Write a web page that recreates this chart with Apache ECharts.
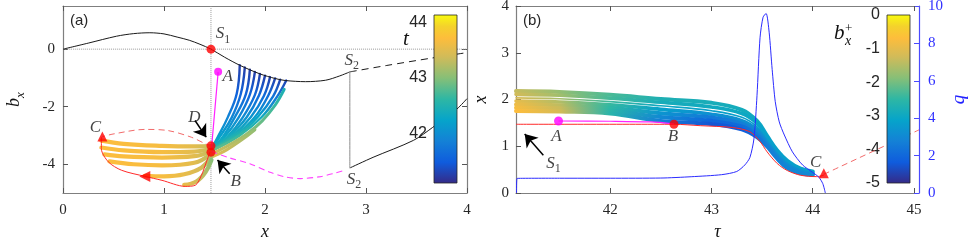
<!DOCTYPE html>
<html><head><meta charset="utf-8">
<script src="https://cdn.jsdelivr.net/npm/echarts@6/dist/echarts.min.js"></script>
<style>html,body{margin:0;padding:0;background:#fff}#c{width:969px;height:242px}</style>
</head><body><div id="c"></div>
<script>
// ================= DATA : panel (a)  (x , b_x , t) =================
const xTicksA = [0, 1, 2, 3, 4];
const bTicksA = [-4, -2, 0];
const tTicksCb = [42, 43, 44];
const tRangeCb = [41.1, 44.13];

const blackUpper = [[0,0],[0.25,0.21],[0.53,0.45],[0.7,0.54],[0.86,0.57],[1.0,0.53],[1.13,0.42],[1.25,0.31],[1.356,0.17],[1.465,0],[1.6,-0.28],[1.75,-0.56],[1.95,-0.86],[2.1,-1.02],[2.2,-1.09],[2.4,-1.13],[2.6,-1.08],[2.74,-0.93],[2.84,-0.79]];
const blackDashed = [[2.84,-0.79],[3.2,-0.57],[3.65,-0.31],[4.0,-0.12]];
const blackLower = [[2.84,-4.13],[3.07,-3.76],[3.47,-3.17],[3.66,-2.72],[3.9,-2.08],[4.0,-1.72]];
const s2Jump = [[2.84,-0.79],[2.84,-4.13]];
const zeroLine = [[0,0],[4,0]];
const s1Vertical = [[1.465,-5],[1.465,1.5]];

const fan1 = [[1.75,-0.56,41.25],[1.72,-1.55,41.55],[1.63,-2.38,41.9],[1.53,-3.07,42.2],[1.47,-3.45,42.45]];
const fan2 = [[1.80,-0.64,41.25],[1.76,-1.56,41.56],[1.67,-2.38,41.92],[1.55,-3.06,42.23],[1.47,-3.46,42.48]];
const fan3 = [[1.85,-0.71,41.25],[1.81,-1.57,41.57],[1.70,-2.37,41.94],[1.58,-3.06,42.27],[1.47,-3.47,42.5]];
const fan4 = [[1.90,-0.79,41.26],[1.85,-1.58,41.58],[1.74,-2.37,41.97],[1.60,-3.05,42.3],[1.47,-3.47,42.53]];
const fan5 = [[1.95,-0.86,41.26],[1.90,-1.59,41.6],[1.78,-2.37,42.0],[1.63,-3.04,42.35],[1.47,-3.48,42.58]];
const fan6 = [[2.00,-0.92,41.27],[1.94,-1.61,41.62],[1.82,-2.36,42.05],[1.65,-3.03,42.4],[1.48,-3.49,42.63]];
const fan7 = [[2.05,-0.97,41.27],[1.99,-1.62,41.65],[1.86,-2.36,42.1],[1.68,-3.02,42.45],[1.48,-3.50,42.68]];
const fan8 = [[2.10,-1.02,41.28],[2.03,-1.63,41.68],[1.90,-2.36,42.17],[1.70,-3.02,42.5],[1.48,-3.51,42.73]];
const fan9 = [[2.15,-1.06,41.29],[2.08,-1.64,41.72],[1.93,-2.35,42.25],[1.73,-3.01,42.57],[1.48,-3.51,42.8]];
const fan10 = [[2.21,-1.09,41.3],[2.12,-1.65,41.78],[1.97,-2.35,42.35],[1.75,-3.00,42.65],[1.48,-3.52,42.88]];
const ret1 = [[1.49,-3.62,43.4],[1.65,-3.32,43.25],[1.82,-2.95,43.05],[1.97,-2.5,42.85],[2.1,-1.95,42.65],[2.19,-1.4,42.45]];
const ret2 = [[1.47,-3.75,43.5],[1.62,-3.5,43.35],[1.77,-3.15,43.2],[1.9,-2.8,43.05]];

const band1 = [[0.38,-3.18,43.7],[0.6,-3.29,43.68],[0.98,-3.36,43.65],[1.3,-3.38,43.5],[1.46,-3.37,43.3]];
const band2 = [[0.38,-3.42,43.7],[0.6,-3.52,43.68],[0.98,-3.58,43.65],[1.3,-3.56,43.5],[1.46,-3.47,43.3]];
const band3 = [[0.41,-3.66,43.7],[0.6,-3.73,43.68],[0.98,-3.77,43.65],[1.3,-3.72,43.5],[1.46,-3.56,43.3]];
const band4 = [[0.46,-3.9,43.7],[0.7,-4.0,43.68],[0.98,-4.04,43.65],[1.3,-3.95,43.5],[1.47,-3.63,43.25]];
const band5 = [[0.81,-4.4,43.68],[1.0,-4.42,43.65],[1.2,-4.35,43.55],[1.37,-4.12,43.4],[1.47,-3.72,43.2]];
const band6 = [[1.2,-4.72,43.55],[1.32,-4.6,43.4],[1.41,-4.28,43.2],[1.47,-3.85,43.0]];

const redArcA = [[1.47,-3.38],[1.41,-3.29],[1.27,-3.06],[1.04,-2.83],[0.81,-2.79],[0.51,-2.94],[0.39,-3.04]];
const redLoopA = [[0.38,-3.06],[0.38,-3.46],[0.45,-3.92],[0.58,-4.21],[0.81,-4.42],[0.98,-4.56],[1.21,-4.77],[1.31,-4.73],[1.37,-4.39],[1.42,-3.92],[1.455,-3.58]];
const magSolidA = [[1.536,-0.8],[1.47,-3.45]];
const magDashA = [[1.47,-3.56],[1.65,-3.78],[1.85,-3.98],[2.05,-4.28],[2.2,-4.44],[2.35,-4.5],[2.55,-4.43],[2.7,-4.3],[2.8,-4.2]];
const redDotsA = [[1.465,0],[1.465,-3.36],[1.465,-3.58]];
const magDotA = [[1.536,-0.785]];
const triCA = [[0.39,-3.04]];
const triArrowA = [[0.81,-4.43]];
const arrowsA = [[[1.307,-2.48],[1.418,-3.06]],[[1.65,-4.33],[1.53,-3.85]]];
const labelsA = [['S1',1.585,0.53],['A',1.63,-0.96],['D',1.30,-2.37],['B',1.71,-4.59],['C',0.32,-2.74],['S2',2.86,-0.38],['S2',2.88,-4.52]];

// ================= DATA : panel (b)  (tau , x , b_x^+) =================
const tauTicksB = [42, 43, 44, 45];
const xTicksB = [0, 1, 2, 3, 4];
const qTicksB = [0, 2, 4, 6, 8, 10];
const bTicksCb = [0, -1, -2, -3, -4, -5];
const bRangeCb = [-5, 0];

const tauBand = [41.07, 41.5, 42.0, 42.5, 43.0, 43.3, 43.45, 43.55, 43.65, 43.75, 43.88, 44.0];
const bandU1x = [2.18, 2.16, 2.10, 2.01, 1.93, 1.78, 1.54, 1.22, 0.91, 0.69, 0.52, 0.46];
const bandU2x = [2.11, 2.09, 2.03, 1.94, 1.84, 1.70, 1.49, 1.19, 0.89, 0.67, 0.51, 0.45];
const bandMx  = [2.035, 2.015, 1.955, 1.865, 1.76, 1.62, 1.415, 1.125, 0.84, 0.635, 0.49, 0.435];
const bandL1x = [1.965, 1.946, 1.889, 1.789, 1.685, 1.549, 1.354, 1.085, 0.808, 0.608, 0.471, 0.424];
const bandL2x = [1.895, 1.879, 1.826, 1.706, 1.615, 1.486, 1.301, 1.055, 0.783, 0.583, 0.454, 0.411];
const bandL3x = [1.825, 1.811, 1.764, 1.624, 1.545, 1.424, 1.249, 1.025, 0.758, 0.558, 0.436, 0.399];
const bandL4x = [1.755, 1.744, 1.701, 1.541, 1.475, 1.361, 1.196, 0.995, 0.733, 0.533, 0.419, 0.386];
const bandU1b = [-1.35,-1.75,-2.3,-2.75,-2.85,-2.9,-3.0,-3.1,-3.15,-3.15,-3.1,-3.05];
const bandU2b = [-1.25,-1.65,-2.35,-2.85,-2.95,-3.0,-3.1,-3.2,-3.25,-3.25,-3.2,-3.15];
const bandMb  = [-1.15,-1.6,-2.4,-3.0,-3.2,-3.2,-3.25,-3.3,-3.35,-3.35,-3.3,-3.25];
const bandL1b = [-1.0,-1.5,-2.45,-3.2,-3.5,-3.5,-3.45,-3.45,-3.45,-3.45,-3.4,-3.35];
const bandL2b = [-0.9,-1.4,-2.5,-3.4,-3.9,-3.8,-3.65,-3.55,-3.55,-3.55,-3.5,-3.45];
const bandL3b = [-0.8,-1.3,-2.55,-3.6,-4.2,-4.1,-3.85,-3.7,-3.65,-3.65,-3.6,-3.55];
const bandL4b = [-0.7,-1.2,-2.6,-3.8,-4.45,-4.35,-4.05,-3.8,-3.75,-3.7,-3.65,-3.6];

const redB = [[41.07,1.47],[42.63,1.47],[42.89,1.44],[43.21,1.40],[43.38,1.31],[43.48,1.10],[43.55,0.88],[43.65,0.63],[43.75,0.48],[43.88,0.38],[44.04,0.35],[44.11,0.38]];
const redDashB = [[44.11,0.4],[45.05,1.35]];
const magB = [[41.49,1.54],[42.0,1.535],[42.4,1.52],[42.63,1.48]];
const qTau = [41.075,41.08,41.5,42.0,42.5,42.8,43.1,43.25,43.33,43.38,43.42,43.45,43.48,43.51,43.54,43.57,43.60,43.63,43.67,43.72,43.8,43.9,44.0,44.06,44.1,44.125];
const qVal = [0,0.78,0.79,0.79,0.8,0.87,0.98,1.15,1.5,1.9,2.9,5.2,8.3,9.4,9.6,8.6,6.6,4.9,3.8,3.1,2.2,1.5,1.1,0.85,0.5,0];
const magDotB = [[41.49,1.54]];
const redDotB = [[42.63,1.47]];
const triCB = [[44.11,0.42]];
const arrowsB = [[[41.34,0.81],[41.156,1.26]]];
const labelsB = [['A',41.47,1.2],['B',42.62,1.2],['S1',41.44,0.64],['C',44.03,0.66]];

// ================= styling helpers =================
const PARULA = [[0,'#352a87'],[0.125,'#0f5cdd'],[0.25,'#1481d6'],[0.375,'#06a4ca'],[0.5,'#2eb7a4'],[0.625,'#87bf77'],[0.75,'#d1bb59'],[0.86,'#fdbd3c'],[0.93,'#f4d22c'],[1,'#f9fb0e']];
function hex(h){return [parseInt(h.slice(1,3),16),parseInt(h.slice(3,5),16),parseInt(h.slice(5,7),16)];}
function cmap(v){
  v=Math.max(0,Math.min(1,v));
  for(let i=1;i<PARULA.length;i++){
    if(v<=PARULA[i][0]){
      const a=PARULA[i-1],b=PARULA[i],f=(v-a[0])/(b[0]-a[0]);
      const ca=hex(a[1]),cb=hex(b[1]);
      return 'rgb('+ca.map((c,k)=>Math.round(c+(cb[k]-c)*f)).join(',')+')';
    }
  }
  return PARULA[PARULA.length-1][1];
}
const SERIF='Liberation Serif', SANS='Liberation Sans', INK='#262626';
const RICH={
  i:{fontFamily:SERIF,fontStyle:'italic',fontSize:17,color:'#111'},
  s:{fontFamily:SERIF,fontSize:12,color:'#111',padding:[12,0,0,0]}
};
function richText(t){return t.length>1?'{i|'+t[0]+'}{s|'+t.slice(1)+'}':'{i|'+t+'}';}

const series=[], trajMeta=[];
function addTraj(id,pts,xi,yi,width,cmin,cmax,horiz){
  series.push({id,type:'line',xAxisIndex:xi,yAxisIndex:yi,data:pts.map(p=>[p[0],p[1]]),symbol:'none',smooth:0.4,silent:true,z:2,
    lineStyle:{width,color:'#888',cap:'round',join:'round'}});
  trajMeta.push({id,pts,cmin,cmax,horiz});
}
function addLine(data,xi,yi,color,width,type,z){
  series.push({type:'line',xAxisIndex:xi,yAxisIndex:yi,data,symbol:'none',smooth:0.3,silent:true,z:z||3,
    lineStyle:{color,width,type:type||'solid'}});
}
function addDots(data,xi,yi,symbol,size,color,rot){
  series.push({type:'scatter',xAxisIndex:xi,yAxisIndex:yi,data,symbol,symbolSize:size,symbolRotate:rot||0,silent:true,z:5,itemStyle:{color}});
}
function addLabels(list,xi,yi){
  series.push({type:'scatter',xAxisIndex:xi,yAxisIndex:yi,symbolSize:0,silent:true,z:6,
    data:list.map(l=>({value:[l[1],l[2]],label:{formatter:richText(l[0])}})),
    label:{show:true,position:'inside',rich:RICH}});
}
function addArrows(list,xi,yi){
  series.push({type:'line',xAxisIndex:xi,yAxisIndex:yi,data:[],silent:true,z:7,
    markLine:{silent:true,animation:false,z:9,symbol:['none','arrow'],symbolSize:12,label:{show:false},
      itemStyle:{color:'#000'},
      lineStyle:{color:'#000',width:1.5,type:'solid'},emphasis:{disabled:true},
      data:list.map(a=>[{coord:a[0]},{coord:a[1]}])}});
}

// ---------- panel (a) series ----------
addLine(zeroLine,0,0,'#9a9a9a',1,'dotted',1);
addLine(s1Vertical,0,0,'#9a9a9a',1,'dotted',1);
[fan1,fan2,fan3,fan4,fan5,fan6,fan7,fan8,fan9,fan10].forEach((f,i)=>addTraj('fan'+i,f,0,0,2.4,tRangeCb[0],tRangeCb[1],false));
[ret1,ret2].forEach((f,i)=>addTraj('ret'+i,f,0,0,3,tRangeCb[0],tRangeCb[1],false));
[band1,band2,band3,band4,band5,band6].forEach((f,i)=>addTraj('band'+i,f,0,0,4.2,tRangeCb[0],tRangeCb[1],false));
addLine(blackUpper,0,0,'#1a1a1a',1);
addLine(blackDashed,0,0,'#1a1a1a',1,[7,5]);
addLine(blackLower,0,0,'#1a1a1a',1);
addLine(s2Jump,0,0,'#8c8c8c',1);
addLine(redArcA,0,0,'#f26b6b',1,[6,4]);
addLine(redLoopA,0,0,'#ff2a2a',1);
addLine(magSolidA,0,0,'#ff22ff',1.2);
addLine(magDashA,0,0,'#ff44ff',1.1,[6,4]);
addDots(redDotsA,0,0,'circle',9,'#ff0000');
addDots(magDotA,0,0,'circle',8,'#ff00ff');
addDots(triCA,0,0,'triangle',10,'#ff0000');
addDots(triArrowA,0,0,'triangle',11,'#ff0000',90);
addArrows(arrowsA,0,0);
addLabels(labelsA,0,0);

// ---------- panel (b) series ----------
const bandSets=[[bandU1x,bandU1b,4],[bandU2x,bandU2b,3.6],[bandMx,bandMb,1.6],[bandL1x,bandL1b,3.6],[bandL2x,bandL2b,4],[bandL3x,bandL3b,4],[bandL4x,bandL4b,4]];
bandSets.forEach((s,i)=>addTraj('bb'+i,tauBand.map((t,k)=>[t,s[0][k],s[1][k]]),2,2,s[2],bRangeCb[0],bRangeCb[1],true));
addLine(redB,2,2,'#ff2a2a',1,'solid',3);
addLine(redDashB,2,2,'#f26b6b',1,[6,4],3);
addLine(magB,2,2,'#ff22ff',1.2,'solid',3);
series.push({type:'line',xAxisIndex:2,yAxisIndex:3,data:qTau.map((t,i)=>[t,qVal[i]]),symbol:'none',smooth:0.25,silent:true,z:4,lineStyle:{color:'#2b2bff',width:1}});
addDots(magDotB,2,2,'circle',9,'#ff00ff');
addDots(redDotB,2,2,'circle',9,'#ff0000');
addDots(triCB,2,2,'triangle',10,'#ff0000');
addArrows(arrowsB,2,2);
addLabels(labelsB,2,2);

// ================= axes =================
const AX_LINE={show:true,onZero:false,lineStyle:{color:'#7f7f7f',width:1.2}};
const TICK=(vals)=>({show:true,inside:true,length:5,customValues:vals,lineStyle:{color:'#555',width:1}});
const LBL=(vals,margin,extra)=>Object.assign({show:true,customValues:vals,margin,color:INK,fontFamily:SERIF,fontSize:15},extra||{});
const NAME_STYLE={fontFamily:SERIF,fontStyle:'italic',fontSize:18,color:'#111'};

const xAxis=[
  {gridIndex:0,type:'value',min:0,max:4,position:'bottom',axisLine:AX_LINE,axisTick:TICK(xTicksA),axisLabel:LBL(xTicksA,10),splitLine:{show:false},
   name:'x',nameLocation:'middle',nameGap:30,nameTextStyle:NAME_STYLE},
  {gridIndex:0,type:'value',min:0,max:4,position:'top',axisLine:AX_LINE,axisTick:TICK(xTicksA),axisLabel:{show:false},splitLine:{show:false}},
  {gridIndex:1,type:'value',min:41.07,max:45.05,position:'bottom',axisLine:AX_LINE,axisTick:TICK(tauTicksB),axisLabel:LBL(tauTicksB,10),splitLine:{show:false},
   name:'τ',nameLocation:'middle',nameGap:30,nameTextStyle:NAME_STYLE},
  {gridIndex:1,type:'value',min:41.07,max:45.05,position:'top',axisLine:AX_LINE,axisTick:TICK(tauTicksB),axisLabel:{show:false},splitLine:{show:false}},
  {gridIndex:2,type:'value',min:0,max:1,show:false},
  {gridIndex:3,type:'value',min:0,max:1,show:false}
];
const yAxis=[
  {gridIndex:0,type:'value',min:-5,max:1.5,position:'left',axisLine:AX_LINE,axisTick:TICK(bTicksA),axisLabel:LBL(bTicksA,8),splitLine:{show:false},
   name:'{b|b}{s|x}',nameLocation:'middle',nameGap:36,nameRotate:90,
   nameTextStyle:{rich:{b:{fontFamily:SERIF,fontStyle:'italic',fontSize:18,color:'#111'},s:{fontFamily:SERIF,fontStyle:'italic',fontSize:13,color:'#111',padding:[12,0,0,0]}}}},
  {gridIndex:0,type:'value',min:-5,max:1.5,position:'right',axisLine:AX_LINE,axisTick:TICK(bTicksA),axisLabel:{show:false},splitLine:{show:false}},
  {gridIndex:1,type:'value',min:0,max:4,interval:1,position:'left',axisLine:AX_LINE,axisTick:TICK(xTicksB),axisLabel:LBL(xTicksB,7),splitLine:{show:false},
   name:'x',nameLocation:'middle',nameGap:26,nameRotate:90,nameTextStyle:NAME_STYLE},
  {gridIndex:1,type:'value',min:0,max:10,interval:2,position:'right',
   axisLine:{show:true,lineStyle:{color:'#4a4aff',width:1.2}},
   axisTick:{show:true,inside:true,length:5,customValues:qTicksB,lineStyle:{color:'#4a4aff'}},
   axisLabel:{show:true,customValues:qTicksB,margin:9,color:'#3030ff',fontFamily:SERIF,fontSize:15},splitLine:{show:false},
   name:'q',nameLocation:'middle',nameGap:30,nameRotate:90,nameTextStyle:Object.assign({},NAME_STYLE,{color:'#2020ff',fontSize:19})},
  {gridIndex:2,type:'value',min:tRangeCb[0],max:tRangeCb[1],position:'left',axisLine:{show:false},axisTick:{show:false},
   axisLabel:{show:true,customValues:tTicksCb,margin:7,color:INK,fontFamily:SANS,fontSize:16},splitLine:{show:false}},
  {gridIndex:3,type:'value',min:bRangeCb[0],max:bRangeCb[1],interval:1,position:'left',axisLine:{show:false},axisTick:{show:false},
   axisLabel:{show:true,customValues:bTicksCb,margin:7,color:INK,fontFamily:SANS,fontSize:16},splitLine:{show:false}}
];

function gradStops(){return PARULA.map(s=>({offset:s[0],color:s[1]}));}
const graphic=[
  {type:'rect',z:10,shape:{x:434,y:15,width:23,height:168},style:{fill:new echarts.graphic.LinearGradient(0,1,0,0,gradStops()),stroke:'#262626',lineWidth:0.8}},
  {type:'rect',z:10,shape:{x:887,y:15,width:23,height:168},style:{fill:new echarts.graphic.LinearGradient(0,1,0,0,gradStops()),stroke:'#262626',lineWidth:0.8}},
  {type:'text',z:10,left:70,top:13,style:{text:'(a)',fontFamily:SANS,fontSize:15,fill:INK}},
  {type:'text',z:10,left:523,top:13,style:{text:'(b)',fontFamily:SANS,fontSize:15,fill:INK}},
  {type:'text',z:10,left:403,top:29,style:{text:'t',fontFamily:SERIF,fontStyle:'italic',fontSize:21,fill:'#111'}},
  {type:'text',z:10,left:834,top:23,style:{text:'b',fontFamily:SERIF,fontStyle:'italic',fontSize:21,fill:'#111'}},
  {type:'text',z:10,left:845,top:22,style:{text:'+',fontFamily:SERIF,fontSize:13,fill:'#111'}},
  {type:'text',z:10,left:845,top:34,style:{text:'x',fontFamily:SERIF,fontStyle:'italic',fontSize:14,fill:'#111'}}
];

const option={
  animation:false,backgroundColor:'#ffffff',
  textStyle:{fontFamily:SERIF},
  grid:[
    {left:63,top:6,width:404,height:187,outerBoundsMode:'none'},
    {left:516,top:6,width:403,height:187,outerBoundsMode:'none'},
    {left:434,top:15,width:23,height:168,outerBoundsMode:'none'},
    {left:887,top:15,width:23,height:168,outerBoundsMode:'none'}
  ],
  xAxis,yAxis,series,graphic
};
const chart=echarts.init(document.getElementById('c'),null,{renderer:'canvas'});
chart.setOption(option);

// gradient colouring of trajectories by their third value (t or b_x^+)
const upd=trajMeta.map(m=>{
  const px=m.pts.map(p=>chart.convertToPixel({seriesId:m.id},[p[0],p[1]]));
  const a=px[0],b=px[px.length-1];
  const dx=b[0]-a[0],dy=m.horiz?0:b[1]-a[1];
  const L2=dx*dx+dy*dy||1;
  const stops=m.pts.map((p,i)=>({offset:Math.min(1,Math.max(0,((px[i][0]-a[0])*dx+(px[i][1]-a[1])*dy)/L2)),
    color:cmap((p[2]-m.cmin)/(m.cmax-m.cmin))}));
  stops.sort((u,v)=>u.offset-v.offset);
  return {id:m.id,lineStyle:{color:new echarts.graphic.LinearGradient(a[0],a[1],a[0]+dx,a[1]+dy,stops,true)}};
});
chart.setOption({series:upd});
</script>
</body></html>
